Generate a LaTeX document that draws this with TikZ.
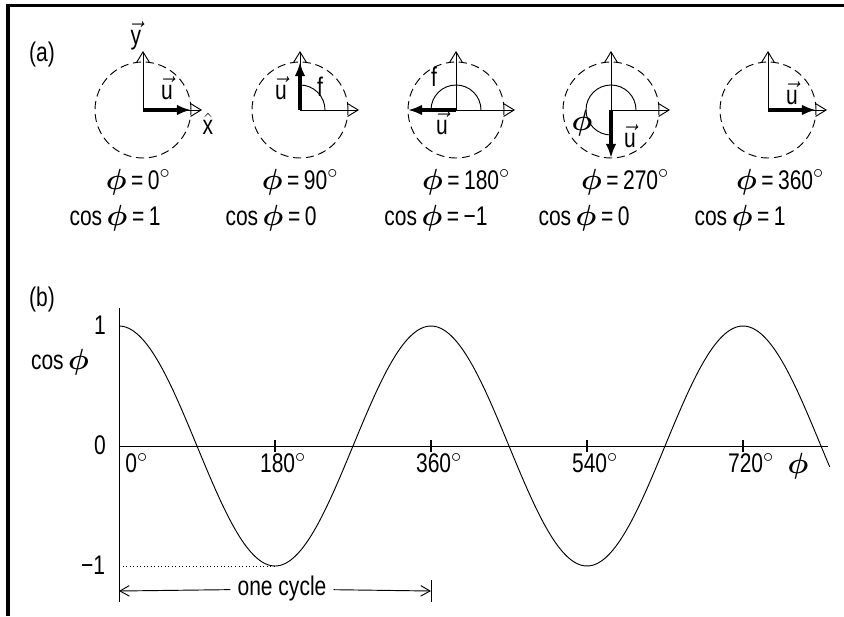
\documentclass[tikz,border=0pt]{standalone}
\usepackage{fontspec}
\setmainfont[FakeStretch=0.78]{Liberation Sans}
\usepackage{bm}
\usetikzlibrary{arrows.meta}

\newcommand{\phib}{$\bm{\phi}$}
\newcommand{\vecu}{$\vec{\mbox{u}}$}
\newcommand{\degr}{$^{\circ}$}

\tikzset{
  lbl/.style={font=\fontsize{23}{27}\selectfont, inner sep=1pt},
  thinline/.style={line width=0.8pt},
  axisline/.style={line width=0.8pt, -{Straight Barb[length=9pt,width=11pt]}},
  dimline/.style={line width=0.8pt, -{Straight Barb[length=8pt,width=9pt]}},
  phasor/.style={line width=2.6pt, -{Latex[length=12pt,width=9pt]}},
  ring/.style={line width=0.8pt, dash pattern=on 7pt off 4pt},
}

\begin{document}
\begin{tikzpicture}[x=0.03cm,y=0.03cm]
\useasboundingbox (0,0) rectangle (844,-616);
\draw[line width=2.6pt] (8,-616) -- (8,-5.5) -- (844,-5.5);

% (a) phasors
\node[lbl] (a) at (42,-55) {(a)};
\foreach \i/\xc/\ang in {1/143/0, 2/300/90, 3/456/180, 4/611/270, 5/768/0} {
  \coordinate (c\i) at (\xc,-110);
  \coordinate (cx\i) at (\xc+59,-110);
  \coordinate (cy\i) at (\xc,-51);
  \coordinate (u\i) at ([shift={(\ang:48)}]c\i);
  \draw[ring] (c\i) circle [radius=48];
  \draw[axisline] (c\i) -- (cx\i);
  \draw[axisline] (c\i) -- (cy\i);
}
\draw[thinline] ([shift={(0:25)}]c2) arc [start angle=0, end angle=90, radius=25];
\draw[thinline] ([shift={(0:25)}]c3) arc [start angle=0, end angle=180, radius=25];
\draw[thinline] ([shift={(0:25)}]c4) arc [start angle=0, end angle=270, radius=25];
\foreach \i in {1,...,5} \draw[phasor] (c\i) -- (u\i);

\node[lbl] (ylab) at (136,-36) {$\vec{\mbox{y}}$};
\node[lbl] (xlab) at (208,-124) {$\hat{\mbox{x}}$};
\node[lbl] (ulab1) at (167,-88) {\vecu};
\node[lbl] (ulab2) at (281,-88) {\vecu};
\node[lbl] (ulab3) at (442,-123) {\vecu};
\node[lbl] (ulab4) at (630,-136) {\vecu};
\node[lbl] (ulab5) at (792,-93) {\vecu};
\node[lbl] (f2) at (320,-87) {f};
\node[lbl] (f3) at (434,-77) {f};
\node[lbl] (phi4) at (582,-123) {\phib};

\node[lbl] (ang1) at (138,-182) {\phib\,=\,0\degr};
\node[lbl] (ang2) at (300,-182) {\phib\,=\,90\degr};
\node[lbl] (ang3) at (466,-182) {\phib\,=\,180\degr};
\node[lbl] (ang4) at (625,-182) {\phib\,=\,270\degr};
\node[lbl] (ang5) at (780,-182) {\phib\,=\,360\degr};
\node[lbl] (cos1) at (115,-218) {cos\,\phib\,=\,1};
\node[lbl] (cos2) at (271,-218) {cos\,\phib\,=\,0};
\node[lbl] (cos3) at (436,-218) {cos\,\phib\,=\,−1};
\node[lbl] (cos4) at (584,-218) {cos\,\phib\,=\,0};
\node[lbl] (cos5) at (740,-218) {cos\,\phib\,=\,1};

% (b) cosine graph
\node[lbl] (b) at (42,-300) {(b)};
\coordinate (o) at (119,-446);
\coordinate (ytop) at (119,-308);
\coordinate (ybot) at (119,-602);
\coordinate (xend) at (828,-446);
\draw[thinline] (ytop) -- (ybot);
\draw[thinline] (o) -- (xend);
\foreach \d in {180,360,540,720} {
  \draw[line width=1.8pt] ({119+\d/180*156},-440) -- ({119+\d/180*156},-452);
  \node[lbl] (t\d) at ({127+\d/180*156},-463) {\d\degr};
}
\node[lbl, anchor=west] (t0) at (124,-463) {0\degr};
\node[lbl] (philab) at (798,-466) {\phib};
\node[lbl] (one) at (100,-325) {1};
\node[lbl] (cosy) at (60,-362) {cos\,\phib};
\node[lbl] (zero) at (100,-445) {0};
\node[lbl] (mone) at (93,-565) {−1};

\draw[thinline] plot[domain=0:820, samples=160, smooth] ({119+\x/180*156}, {-446+120*cos(\x)});

\coordinate (m1) at (119,-566);
\coordinate (bot) at (275,-566);
\draw[line width=0.6pt, dash pattern=on 0.6pt off 2.4pt] (m1) -- (bot);

\coordinate (cl) at (119,-591);
\coordinate (cr) at (431,-591);
\coordinate (bartop) at (431,-580);
\coordinate (barbot) at (431,-602);
\draw[thinline] (bartop) -- (barbot);
\node[lbl, inner sep=6pt] (cycle) at (282,-589) {one cycle};
\draw[dimline] (cycle) -- (cl);
\draw[dimline] (cycle) -- (cr);
\end{tikzpicture}
\end{document}
